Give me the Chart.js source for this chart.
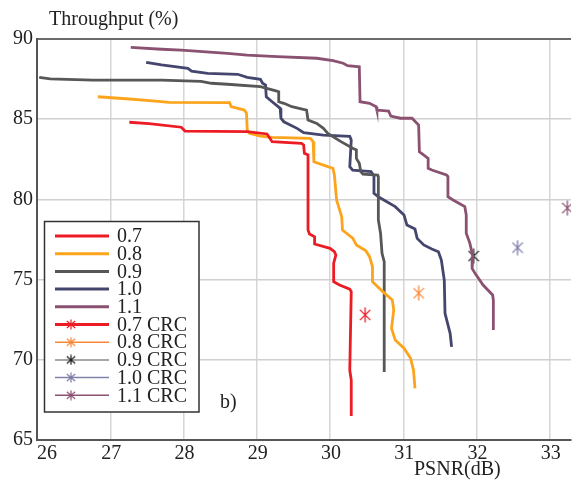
<!DOCTYPE html>
<html>
<head>
<meta charset="utf-8">
<script src="https://cdn.jsdelivr.net/npm/chart.js@4.4.1/dist/chart.umd.min.js"></script>
<style>
  html, body { margin: 0; padding: 0; background: #fff; }
  #wrap { width: 578px; height: 481px; }
</style>
</head>
<body>
<div id="wrap"><canvas id="psnrChart" width="578" height="481"></canvas></div>
<script>
// Throughput (%) versus PSNR (dB): one staircase curve per rate, plus the CRC operating points
const rateLabels = ['0.7', '0.8', '0.9', '1.0', '1.1'];

const psnr07 = [27.26, 27.53, 27.97, 28.02, 28.87, 29.14, 29.21, 29.61, 29.64, 29.65, 29.70, 29.70, 29.72,
                29.79, 29.79, 30.00, 30.06, 30.08, 30.05, 30.05, 30.13, 30.27, 30.29, 30.27, 30.29, 30.29];
const thr07  = [84.81, 84.73, 84.50, 84.26, 84.22, 84.08, 83.60, 83.50, 83.39, 82.87, 82.77, 78.09, 77.84,
                77.67, 77.22, 76.95, 76.74, 76.53, 76.02, 74.87, 74.66, 74.40, 74.25, 69.35, 68.74, 66.50];

const psnr08 = [26.83, 27.26, 27.62, 27.80, 28.63, 28.65, 28.83, 28.86, 28.87, 28.90, 29.05, 29.21, 29.73,
                29.77, 29.78, 29.97, 30.04, 30.06, 30.09, 30.16, 30.17, 30.31, 30.36, 30.49, 30.54, 30.58,
                30.58, 30.72, 30.85, 30.87, 30.84, 30.89, 31.01, 31.10, 31.14, 31.16];
const thr08  = [86.40, 86.26, 86.13, 86.05, 86.03, 85.78, 85.57, 85.37, 84.33, 84.12, 83.95, 83.87, 83.81,
                83.60, 82.35, 82.04, 81.94, 81.52, 79.96, 78.92, 78.09, 77.59, 77.16, 76.80, 76.43, 75.80,
                74.87, 74.25, 73.73, 73.11, 71.96, 71.23, 70.72, 70.09, 69.36, 68.22];

const psnr09 = [26.03, 26.18, 26.76, 27.70, 28.24, 28.38, 28.60, 29.05, 29.25, 29.30, 29.30, 29.37, 29.48,
                29.68, 29.70, 29.82, 29.91, 29.97, 30.15, 30.31, 30.36, 30.36, 30.40, 30.42, 30.45, 30.65,
                30.66, 30.66, 30.69, 30.71, 30.74, 30.74];
const thr09  = [87.61, 87.51, 87.44, 87.44, 87.36, 87.24, 87.18, 87.03, 86.78, 86.71, 86.09, 85.99, 85.78,
                85.57, 84.95, 84.74, 84.43, 84.12, 83.60, 83.19, 83.08, 82.56, 82.25, 81.73, 81.58, 81.52,
                81.42, 78.72, 77.89, 76.64, 76.12, 69.24];

const psnr10 = [27.49, 27.70, 28.06, 28.11, 28.33, 28.74, 28.87, 29.05, 29.08, 29.12, 29.13, 29.21, 29.32,
                29.33, 29.37, 29.55, 29.64, 29.91, 30.27, 30.29, 30.27, 30.31, 30.56, 30.60, 30.60, 30.67,
                30.89, 31.01, 31.05, 31.16, 31.19, 31.28, 31.39, 31.48, 31.52, 31.56, 31.57, 31.64, 31.66];
const thr10  = [88.55, 88.38, 88.17, 88.00, 87.86, 87.80, 87.61, 87.49, 87.24, 87.13, 86.40, 86.09, 85.68,
                85.06, 84.84, 84.43, 84.16, 84.01, 83.93, 83.70, 82.04, 81.83, 81.73, 81.46, 80.38, 80.13,
                79.55, 79.03, 78.40, 78.15, 77.57, 77.16, 76.91, 76.74, 76.22, 74.97, 72.90, 71.65, 70.80];

const psnr11 = [27.28, 27.70, 27.97, 28.60, 28.87, 29.28, 29.82, 30.04, 30.18, 30.24, 30.40, 30.41, 30.54,
                30.63, 30.64, 30.80, 30.83, 30.96, 31.12, 31.21, 31.22, 31.25, 31.34, 31.34, 31.39, 31.59,
                31.61, 31.61, 31.68, 31.84, 31.86, 31.86, 31.91, 31.95, 31.94, 31.98, 32.09, 32.22, 32.23, 32.23];
const thr11  = [89.48, 89.36, 89.31, 89.11, 89.00, 88.90, 88.80, 88.65, 88.49, 88.34, 88.27, 86.09, 85.99,
                85.78, 85.57, 85.51, 85.20, 85.06, 85.06, 84.64, 82.97, 82.87, 82.56, 81.94, 81.83, 81.52,
                81.42, 80.17, 79.96, 79.55, 79.03, 77.89, 77.26, 76.43, 75.70, 75.39, 74.66, 74.04, 73.73, 71.86];

// CRC points, one per rate
const crcLabels     = ['0.7 CRC', '0.8 CRC', '0.9 CRC', '1.0 CRC', '1.1 CRC'];
const crcPsnr       = [30.48, 31.21, 31.96, 32.56, 33.24];
const crcThroughput = [72.8, 74.15, 76.47, 76.99, 79.46];

const xTicks = [26, 27, 28, 29, 30, 31, 32, 33];
const yTicks = [65, 70, 75, 80, 85, 90];

const lineColors    = ['#ed1c24', '#fca41c', '#575757', '#45466e', '#8a5171'];
const crcColors     = ['#ed1c24', '#f7883a', '#1e1e1e', '#7b7aa6', '#8a5171'];
const crcLineColors = ['#ed1c24', '#f7883a', '#8a8a8a', '#8482ad', '#8a5171'];

const SERIF = '"Liberation Serif", "DejaVu Serif", serif';

// six-armed asterisk used as the CRC marker
function makeStar(color, w, h, lw) {
    const c = document.createElement('canvas');
    c.width = w;
    c.height = h;
    const g = c.getContext('2d');
    g.strokeStyle = color;
    g.lineWidth = lw;
    g.beginPath();
    g.moveTo(w / 2, 0.5);
    g.lineTo(w / 2, h - 0.5);
    g.moveTo(0.8, h * 0.18);
    g.lineTo(w - 0.8, h * 0.82);
    g.moveTo(w - 0.8, h * 0.18);
    g.lineTo(0.8, h * 0.82);
    g.stroke();
    return c;
}

const rateX = [psnr07, psnr08, psnr09, psnr10, psnr11];
const rateY = [thr07, thr08, thr09, thr10, thr11];

const datasets = [];
rateLabels.forEach((label, i) => {
    datasets.push({
        label: label,
        data: rateX[i].map((x, k) => ({ x: x, y: rateY[i][k] })),
        borderColor: lineColors[i],
        borderWidth: 2.8,
        pointRadius: 0,
        tension: 0,
        fill: false
    });
});
crcLabels.forEach((label, i) => {
    datasets.push({
        label: label,
        data: [{ x: crcPsnr[i], y: crcThroughput[i] }],
        showLine: false,
        borderColor: crcColors[i],
        pointStyle: makeStar(crcColors[i], 12, 16, 1.3),
        pointRadius: 6
    });
});

// titles, x tick labels, the "b)" tag and the boxed legend
const decorations = {
    id: 'decorations',
    afterDraw(chart) {
        const ctx = chart.ctx;
        const xs = chart.scales.x;
        ctx.save();
        ctx.fillStyle = '#222';
        ctx.font = '20px ' + SERIF;
        ctx.textBaseline = 'alphabetic';

        ctx.textAlign = 'left';
        ctx.fillText('Throughput (%)', 49, 25);
        ctx.fillText('PSNR(dB)', 414, 475);
        ctx.fillText('b)', 220, 408);

        xTicks.forEach((t, i) => {
            ctx.textAlign = i === 0 ? 'left' : 'center';
            ctx.fillText(String(t), xs.getPixelForValue(t) + (i === 0 ? 0 : 1), 459);
        });

        // legend box
        ctx.fillStyle = '#fff';
        ctx.fillRect(44, 221, 155, 191);
        ctx.strokeStyle = '#333';
        ctx.lineWidth = 1.5;
        ctx.strokeRect(44.5, 221.5, 154.5, 190.5);

        const names = rateLabels.concat(crcLabels);
        names.forEach((name, i) => {
            const y = 236 + i * 17.7;
            const isCrc = i >= 5;
            const k = i % 5;
            ctx.strokeStyle = isCrc ? crcLineColors[k] : lineColors[k];
            ctx.lineWidth = (!isCrc || k === 0) ? 3 : 1.5;
            ctx.beginPath();
            ctx.moveTo(55, y);
            ctx.lineTo(109, y);
            ctx.stroke();
            if (isCrc) {
                const star = makeStar(crcColors[k], 10, 11, 1.2);
                ctx.drawImage(star, 71 - 5, y - 5.5);
            }
            ctx.fillStyle = '#222';
            ctx.textAlign = 'left';
            ctx.textBaseline = 'middle';
            ctx.fillText(name, 117, y + 1);
        });
        ctx.restore();
    }
};

new Chart(document.getElementById('psnrChart'), {
    type: 'line',
    data: { datasets: datasets },
    options: {
        responsive: false,
        animation: false,
        layout: { padding: { top: 39, right: 0, left: 0, bottom: 0 } },
        scales: {
            x: {
                type: 'linear',
                min: 26,
                max: 33.29,
                afterFit(s) { s.height = 41; },
                afterBuildTicks(s) { s.ticks = xTicks.map(v => ({ value: v })); },
                ticks: { display: false },
                grid: { color: '#d6d6d6', lineWidth: 1.5, drawTicks: false },
                border: { color: '#555', width: 2 }
            },
            y: {
                type: 'linear',
                min: 65,
                max: 90,
                afterFit(s) { s.width = 37; },
                afterBuildTicks(s) { s.ticks = yTicks.map(v => ({ value: v })); },
                ticks: {
                    padding: 4,
                    color: '#222',
                    font: { family: SERIF, size: 20 }
                },
                grid: {
                    color: c => (c.tick && c.tick.value === 90) ? '#6a6a6a' : '#d0d0d0',
                    lineWidth: c => (c.tick && c.tick.value === 90) ? 2 : 1.5,
                    drawTicks: false
                },
                border: { color: '#555', width: 2 }
            }
        },
        plugins: {
            legend: { display: false },
            tooltip: { enabled: false }
        }
    },
    plugins: [decorations]
});
</script>
</body>
</html>
